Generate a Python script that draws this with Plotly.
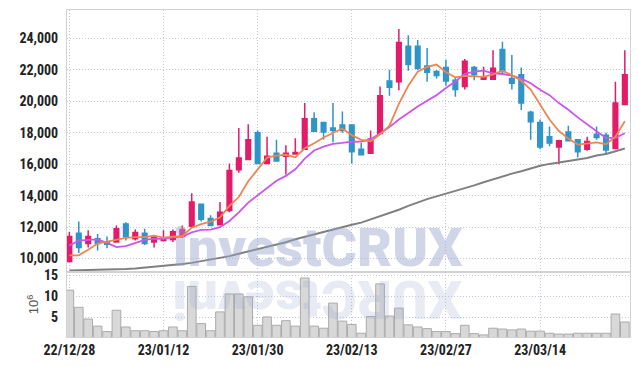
import plotly.graph_objects as go
from plotly.subplots import make_subplots

dates = [
    "2022-12-28", "2022-12-29", "2023-01-02", "2023-01-03", "2023-01-04", "2023-01-05",
    "2023-01-06", "2023-01-09", "2023-01-10", "2023-01-11", "2023-01-12", "2023-01-13",
    "2023-01-16", "2023-01-17", "2023-01-18", "2023-01-19", "2023-01-20", "2023-01-25",
    "2023-01-26", "2023-01-27", "2023-01-30", "2023-01-31", "2023-02-01", "2023-02-02",
    "2023-02-03", "2023-02-06", "2023-02-07", "2023-02-08", "2023-02-09", "2023-02-10",
    "2023-02-13", "2023-02-14", "2023-02-15", "2023-02-16", "2023-02-17", "2023-02-20",
    "2023-02-21", "2023-02-22", "2023-02-23", "2023-02-24", "2023-02-27", "2023-02-28",
    "2023-03-02", "2023-03-03", "2023-03-06", "2023-03-07", "2023-03-08", "2023-03-09",
    "2023-03-10", "2023-03-13", "2023-03-14", "2023-03-15", "2023-03-16", "2023-03-17",
    "2023-03-20", "2023-03-21", "2023-03-22", "2023-03-23", "2023-03-24", "2023-03-27",
]

open_ = [9800, 11600, 10950, 11250, 11050, 11050, 12200, 11250, 11600, 11050,
         11150, 11200, 11400, 12050, 13450, 12550, 12150, 13050, 15650, 16300,
         18000, 16050, 16700, 16500, 16650, 16950, 18900, 18650, 18300, 18500,
         18500, 16950, 16700, 17950, 21300, 21250, 23500, 23500, 22250, 21900,
         22150, 21350, 20950, 22150, 21400, 21400, 23300, 21450, 21700, 19300,
         18650, 17750, 17100, 18050, 17550, 16950, 17900, 17850, 17000, 19800]
high = [11700, 12350, 11800, 11550, 11400, 12100, 12300, 11850, 11900, 11500,
        11800, 11850, 12100, 14150, 13500, 12750, 13600, 16050, 18300, 18550,
        18150, 17750, 17550, 17200, 17650, 19900, 19300, 18650, 19900, 19350,
        18500, 17350, 18150, 20950, 22000, 24600, 24200, 23900, 23400, 22000,
        22650, 21500, 22700, 22250, 22200, 23250, 23800, 22950, 22150, 19400,
        18850, 18400, 17550, 18450, 17550, 17750, 18400, 18000, 21250, 23250]
low = [9750, 10350, 10700, 10500, 10650, 11000, 11150, 11150, 10850, 10700,
       11100, 11050, 11300, 12000, 12350, 12050, 12100, 12950, 15450, 16250,
       16000, 16050, 16200, 15350, 16650, 16900, 18050, 17550, 17400, 18000,
       16050, 16600, 16700, 17950, 20350, 20700, 21950, 22000, 21250, 21450,
       21000, 20300, 20750, 21350, 21400, 21400, 21750, 20750, 19450, 17550,
       16950, 17150, 16000, 17450, 16450, 16850, 17550, 16600, 17000, 19750]
close = [11400, 10700, 11400, 10950, 10900, 11900, 11400, 11650, 10950, 11350,
         11300, 11700, 11850, 13600, 12500, 12100, 12950, 15600, 16400, 17550,
         16050, 16500, 16200, 16700, 16750, 18900, 18100, 18050, 18150, 18150,
         16800, 16600, 17600, 20350, 20900, 23750, 22350, 22100, 21850, 21650,
         21300, 20750, 22550, 21700, 21500, 22100, 21900, 21150, 19900, 18700,
         17100, 17350, 17500, 17500, 16800, 17450, 17700, 16900, 19900, 21700]

ma5 = [10200, 10200, 10550, 10950, 11070, 11170, 11310, 11360, 11360, 11450,
       11330, 11390, 11430, 11960, 12190, 12350, 12600, 13350, 13910, 14920,
       15710, 16420, 16540, 16600, 16440, 17010, 17330, 17700, 17990, 18270,
       17850, 17550, 17460, 17900, 18450, 19840, 20990, 21890, 22190, 22340,
       21850, 21530, 21620, 21590, 21560, 21720, 21950, 21670, 21310, 20750,
       19750, 18840, 18110, 17630, 17250, 17320, 17390, 17270, 17750, 18730]
ma10 = [10820, 11140, 11190, 11210, 10990, 10720, 10780, 10990, 11180, 11260,
        11250, 11350, 11395, 11660, 11820, 11840, 11995, 12390, 12935, 13555,
        14030, 14510, 14945, 15255, 15680, 16360, 16875, 17120, 17295, 17355,
        17430, 17440, 17580, 17945, 18360, 18845, 19270, 19675, 20045, 20395,
        20845, 21260, 21755, 21890, 21950, 21785, 21740, 21645, 21450, 21155,
        20735, 20395, 19890, 19470, 18980, 18515, 18095, 17670, 17670, 17970]
ma_long = [9230, 9240, 9250, 9260, 9280, 9300, 9330, 9370, 9420, 9470,
           9530, 9590, 9650, 9720, 9820, 9920, 10020, 10150, 10300, 10450,
           10600, 10720, 10870, 11030, 11220, 11380, 11540, 11700, 11840, 12000,
           12150, 12280, 12480, 12700, 12900, 13100, 13350, 13580, 13780, 13950,
           14120, 14300, 14470, 14650, 14850, 15050, 15250, 15400, 15550, 15720,
           15900, 16020, 16120, 16220, 16300, 16400, 16550, 16650, 16820, 17000]

volume_m = [11.5, 7.4, 4.6, 2.9, 1.6, 6.7, 2.7, 1.8, 1.8, 1.6,
            1.8, 2.7, 1.8, 12.4, 3.5, 1.8, 6.3, 10.6, 10.6, 9.9,
            3.1, 5.1, 3.1, 4.2, 2.9, 14.4, 2.9, 2.4, 8.4, 4.1,
            3.3, 1.2, 5.2, 13.0, 5.3, 7.2, 3.2, 2.7, 2.3, 1.6,
            1.6, 1.1, 3.1, 1.1, 0.8, 2.4, 2.2, 2.0, 2.2, 1.7,
            1.7, 1.2, 1.0, 1.0, 1.2, 1.2, 1.2, 1.2, 5.8, 3.9]

price_ticks = [10000, 12000, 14000, 16000, 18000, 20000, 22000, 24000]
volume_ticks = [5, 10, 15]
date_ticks = dates[0::10]
date_labels = [d[2:].replace("-", "/") for d in date_ticks]

RED = "#e31b69"
BLUE = "#2f95c9"
GRID = "#c3c8d8"
AXIS = "#d2d2d2"
TICKFONT = dict(family="Liberation Sans Narrow, Roboto Condensed, DejaVu Sans Condensed, sans-serif",
                size=14, color="#222222", weight="bold")

fig = make_subplots(rows=2, cols=1, shared_xaxes=True, vertical_spacing=0,
                    row_heights=[0.8012, 0.1988])

fig.add_trace(go.Candlestick(
    x=dates, open=open_, high=high, low=low, close=close,
    increasing=dict(line=dict(color=RED, width=1.5), fillcolor=RED),
    decreasing=dict(line=dict(color=BLUE, width=1.5), fillcolor=BLUE),
    showlegend=False), row=1, col=1)

fig.add_trace(go.Scatter(x=dates, y=ma_long, mode="lines",
                         line=dict(color="#808080", width=2), showlegend=False), row=1, col=1)
fig.add_trace(go.Scatter(x=dates, y=ma10, mode="lines",
                         line=dict(color="#cc55ee", width=1.8), showlegend=False), row=1, col=1)
fig.add_trace(go.Scatter(x=dates, y=ma5, mode="lines",
                         line=dict(color="#ef8550", width=1.8), showlegend=False), row=1, col=1)

fig.add_trace(go.Bar(x=dates, y=volume_m,
                     marker=dict(color="#d8d8d8", line=dict(color="#ababab", width=1)),
                     showlegend=False), row=2, col=1)

xcommon = dict(type="category", range=[-0.25, 59.55], tickvals=date_ticks,
               showgrid=True, gridcolor=GRID, griddash="1px,2px", gridwidth=1,
               showline=True, linecolor=AXIS, linewidth=1, mirror=True, zeroline=False,
               automargin=False)
fig.update_xaxes(**xcommon)
fig.update_xaxes(showticklabels=False, rangeslider_visible=False, row=1, col=1)
fig.update_xaxes(showticklabels=True, ticktext=date_labels, tickfont=TICKFONT,
                 ticks="", row=2, col=1)

ycommon = dict(showgrid=True, gridcolor=GRID, griddash="1px,2px", gridwidth=1,
               showline=True, linecolor=AXIS, linewidth=1, mirror=True, zeroline=False,
               tickfont=TICKFONT, ticks="outside", ticklen=5, tickcolor="rgba(0,0,0,0)",
               automargin=False)
fig.update_yaxes(**ycommon)
fig.update_yaxes(range=[9140, 25814], tickvals=price_ticks, tickformat=",", row=1, col=1)
fig.update_yaxes(range=[0.3, 15.84], tickvals=volume_ticks, row=2, col=1)

fig.add_annotation(xref="paper", yref="paper", x=0.445, y=0.1988, yanchor="bottom",
                   text="investCRUX", showarrow=False, yshift=-9,
                   font=dict(family="Roboto, Liberation Sans, sans-serif", size=54,
                             weight=900, color="rgba(150,165,205,0.45)"))
fig.add_annotation(xref="paper", yref="paper", x=0.445, y=0.1988, yanchor="top",
                   text="XURCtsevni", showarrow=False, yshift=6, textangle=180,
                   font=dict(family="Roboto, Liberation Sans, sans-serif", size=54,
                             weight=900, color="rgba(150,165,205,0.22)"))
fig.add_annotation(xref="paper", yref="paper", x=-0.0613, y=0.102, xanchor="center",
                   yanchor="middle", text="10<sup>6</sup>", showarrow=False, textangle=-90,
                   font=dict(family="Liberation Sans, sans-serif", size=13, color="#555555"))

fig.update_layout(width=639, height=366, margin=dict(l=67, r=9, t=10, b=29),
                  paper_bgcolor="white", plot_bgcolor="white", bargap=0.08,
                  hovermode=False)

fig.write_html("out.html", config={"displayModeBar": False},
               post_script="document.body.style.margin='0';")
